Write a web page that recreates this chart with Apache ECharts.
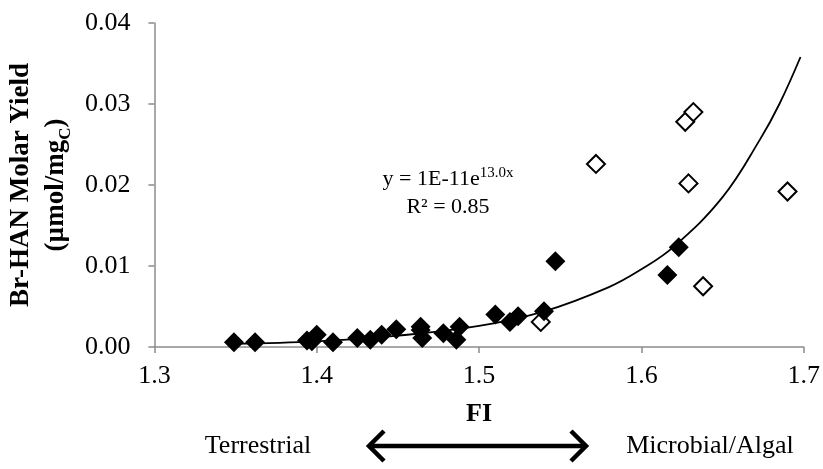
<!DOCTYPE html>
<html>
<head>
<meta charset="utf-8">
<title>Br-HAN molar yield vs FI</title>
<script src="https://cdn.jsdelivr.net/npm/echarts@6/dist/echarts.min.js"></script>
<style>
  html, body { margin: 0; padding: 0; background: #fff; }
  #chart { width: 823px; height: 469px; }
</style>
</head>
<body>
<div id="chart"></div>
<script>
// filled diamonds
const filledFI = [1.349, 1.362, 1.394, 1.397, 1.400, 1.410, 1.425, 1.433, 1.440, 1.449,
  1.464, 1.464, 1.465, 1.478, 1.486, 1.488, 1.510, 1.519, 1.524, 1.540, 1.547, 1.616, 1.623]
const filledY = [0.0006, 0.0006, 0.0008, 0.0007, 0.0015, 0.0006, 0.0011, 0.0009, 0.0015, 0.0022,
  0.0025, 0.0021, 0.0011, 0.0017, 0.0009, 0.0025, 0.0040, 0.0031, 0.0038, 0.0044, 0.0106, 0.0089, 0.0123]
// open diamonds
const openFI = [1.538, 1.572, 1.627, 1.632, 1.629, 1.638, 1.690]
const openY = [0.0031, 0.0226, 0.0278, 0.0290, 0.0202, 0.0075, 0.0192]
// trendline
const trendFI = [1.349, 1.40, 1.45, 1.50, 1.54, 1.58, 1.60, 1.62, 1.65, 1.673, 1.685, 1.698]
const trendY = [0.0004, 0.0007, 0.0014, 0.0026, 0.0044, 0.0074, 0.0096, 0.0124, 0.0185, 0.0256, 0.0300, 0.0358]

const xTicks = {min: 1.3, max: 1.7, step: 0.1}
const yTicks = {min: 0, max: 0.04, step: 0.01}

const zip = (xs, ys) => xs.map((x, i) => [x, ys[i]])
const serif = '"Liberation Serif", "Times New Roman", serif'
const axisGray = '#8c8c8c'

const chart = echarts.init(document.getElementById('chart'))

chart.setOption({
  animation: false,
  textStyle: {fontFamily: serif},
  grid: {left: 152, right: 17, top: 23, bottom: 122},
  xAxis: {
    type: 'value',
    min: xTicks.min, max: xTicks.max, interval: xTicks.step,
    name: 'FI',
    nameLocation: 'middle',
    nameGap: 54,
    nameTextStyle: {fontFamily: serif, fontSize: 26, fontWeight: 'bold', color: '#000'},
    axisLine: {lineStyle: {color: axisGray, width: 1.5}},
    axisTick: {show: true, length: 6, lineStyle: {color: axisGray, width: 1.5}},
    splitLine: {show: false},
    axisLabel: {
      margin: 16, fontSize: 26, color: '#000', fontFamily: serif,
      formatter: v => v.toFixed(1)
    }
  },
  yAxis: {
    type: 'value',
    min: yTicks.min, max: yTicks.max, interval: yTicks.step,
    name: '{b|Br-HAN Molar Yield}\n{b|(µmol/mg}{s|C}{b|)}',
    nameLocation: 'middle',
    nameRotate: 90,
    nameGap: 77,
    nameTextStyle: {
      fontFamily: serif, color: '#000', align: 'center',
      rich: {
        b: {fontFamily: serif, fontSize: 27, fontWeight: 'bold', color: '#000', lineHeight: 35},
        s: {fontFamily: serif, fontSize: 17, fontWeight: 'bold', color: '#000', lineHeight: 17, verticalAlign: 'bottom'}
      }
    },
    axisLine: {show: true, lineStyle: {color: axisGray, width: 1.5}},
    axisTick: {show: true, length: 6, lineStyle: {color: axisGray, width: 1.5}},
    splitLine: {show: false},
    axisLabel: {
      margin: 24, fontSize: 26, color: '#000', fontFamily: serif,
      formatter: v => v.toFixed(2)
    }
  },
  series: [
    {
      type: 'scatter',
      data: zip(openFI, openY),
      symbol: 'diamond',
      symbolSize: 18,
      itemStyle: {color: '#fff', borderColor: '#000', borderWidth: 2, opacity: 1},
      z: 2
    },
    {
      type: 'scatter',
      data: zip(filledFI, filledY),
      symbol: 'diamond',
      symbolSize: 20,
      itemStyle: {color: '#000', opacity: 1},
      z: 3
    },
    {
      type: 'line',
      data: zip(trendFI, trendY),
      smooth: 0.4,
      showSymbol: false,
      lineStyle: {color: '#000', width: 1.8},
      z: 4
    }
  ],
  graphic: [
    {
      type: 'text', x: 448, y: 179,
      style: {
        text: '{t|y = 1E-11e}{p|13.0x}',
        align: 'center', verticalAlign: 'middle',
        rich: {
          t: {fontFamily: serif, fontSize: 22, fill: '#000', lineHeight: 26},
          p: {fontFamily: serif, fontSize: 15, fill: '#000', lineHeight: 15, verticalAlign: 'top'}
        }
      }
    },
    {
      type: 'text', x: 448, y: 207,
      style: {text: 'R² = 0.85', font: '22px ' + serif, fill: '#000', align: 'center', verticalAlign: 'middle'}
    },
    {
      type: 'text', x: 258, y: 446,
      style: {text: 'Terrestrial', font: '26px ' + serif, fill: '#000', align: 'center', verticalAlign: 'middle'}
    },
    {
      type: 'text', x: 710, y: 446,
      style: {text: 'Microbial/Algal', font: '26px ' + serif, fill: '#000', align: 'center', verticalAlign: 'middle'}
    },
    {
      type: 'line',
      shape: {x1: 369, y1: 446, x2: 586, y2: 446},
      style: {stroke: '#000', lineWidth: 4.5}
    },
    {
      type: 'polyline',
      shape: {points: [[384, 431], [369, 446], [384, 461]]},
      style: {stroke: '#000', lineWidth: 4.5, fill: null}
    },
    {
      type: 'polyline',
      shape: {points: [[571, 431], [586, 446], [571, 461]]},
      style: {stroke: '#000', lineWidth: 4.5, fill: null}
    }
  ]
})
</script>
</body>
</html>
